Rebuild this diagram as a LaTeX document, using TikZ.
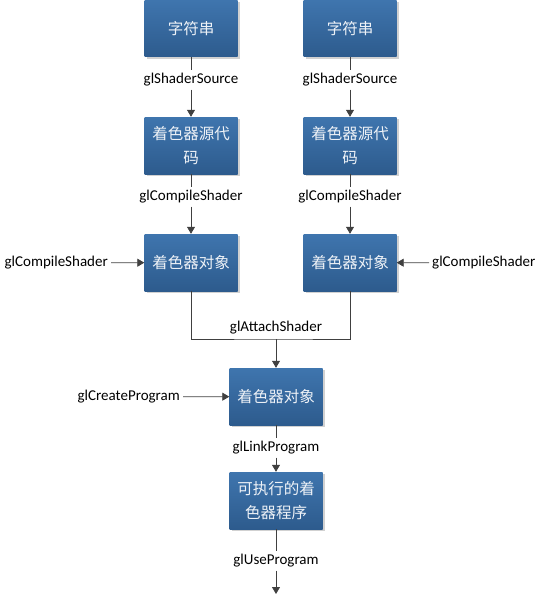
\documentclass[tikz,border=0pt]{standalone}
\usepackage{fontspec}
\setmainfont{Carlito}
\newfontfamily\cjk{Noto Sans CJK SC}
\usepackage{tikz}
\usetikzlibrary{shapes, arrows.meta, shadows, calc}
\definecolor{boxtop}{HTML}{3F75AE}
\definecolor{boxbottom}{HTML}{2D5B8D}
\definecolor{linegray}{HTML}{404040}
\definecolor{boxtext}{HTML}{EEF2F7}
\tikzset{
  shaderbox/.style={rectangle, minimum width=93pt, minimum height=57pt, inner sep=2pt,
    top color=boxtop, bottom color=boxbottom, text=boxtext, align=center,
    font=\cjk\fontsize{15.5}{24}\selectfont,
    drop shadow={shadow xshift=2pt, shadow yshift=-2pt, fill=black, opacity=0.18}},
  fnlabel/.style={inner sep=3pt, font=\fontsize{15}{17}\selectfont},
  conn/.style={draw=linegray, line width=0.8pt},
  arr/.style={conn, -{Triangle[width=8pt,length=7pt]}}
}
\begin{document}
\begin{tikzpicture}[x=1pt, y=1pt]
             \useasboundingbox (0,0) rectangle (542,-594);
             % two shader branches
             \node[shaderbox] (str1) at (191,-28.5) {字符串};
             \node[shaderbox] (str2) at (350,-28.5) {字符串};
             \node[fnlabel] (src1lbl) at (191,-80) {glShaderSource};
             \node[fnlabel] (src2lbl) at (350,-80) {glShaderSource};
             \node[shaderbox] (src1) at (191,-145.5) {着色器源代\\码};
             \node[shaderbox] (src2) at (350,-145.5) {着色器源代\\码};
             \node[fnlabel] (cmp1lbl) at (191,-197) {glCompileShader};
             \node[fnlabel] (cmp2lbl) at (350,-197) {glCompileShader};
             \node[shaderbox] (obj1) at (191,-262.5) {着色器对象};
             \node[shaderbox] (obj2) at (350,-262.5) {着色器对象};
             \node[fnlabel, anchor=east] (in1lbl) at (111,-263) {glCompileShader};
             \node[fnlabel, anchor=west] (in2lbl) at (429,-263) {glCompileShader};
             \draw[conn] (str1) -- (src1lbl);
             \draw[arr] (src1lbl) -- (src1);
             \draw[conn] (str2) -- (src2lbl);
             \draw[arr] (src2lbl) -- (src2);
             \draw[conn] (src1) -- (cmp1lbl);
             \draw[arr] (cmp1lbl) -- (obj1);
             \draw[conn] (src2) -- (cmp2lbl);
             \draw[arr] (cmp2lbl) -- (obj2);
             \draw[arr] (in1lbl) -- (obj1);
             \draw[arr] (in2lbl) -- (obj2);
             % attach and link
             \coordinate (join) at (276,-339);
             \node[fnlabel] (attlbl) at (276,-328) {glAttachShader};
             \node[shaderbox] (prog) at (276,-396.5) {着色器对象};
             \node[fnlabel, anchor=east] (crtlbl) at (183,-397) {glCreateProgram};
             \node[fnlabel] (lnklbl) at (276,-448) {glLinkProgram};
             \node[shaderbox] (exe) at (276,-500.5) {可执行的着\\色器程序};
             \node[fnlabel] (uselbl) at (276,-561) {glUseProgram};
             \coordinate (out) at (276,-594);
             \draw[conn] (obj1) |- (join) -| (obj2);
             \draw[arr] (join) -- (prog);
             \draw[arr] (crtlbl) -- (prog);
             \draw[conn] (prog) -- (lnklbl);
             \draw[arr] (lnklbl) -- (exe);
             \draw[conn] (exe) -- (uselbl);
             \draw[arr] (uselbl) -- (out);
         \end{tikzpicture}
\end{document}
